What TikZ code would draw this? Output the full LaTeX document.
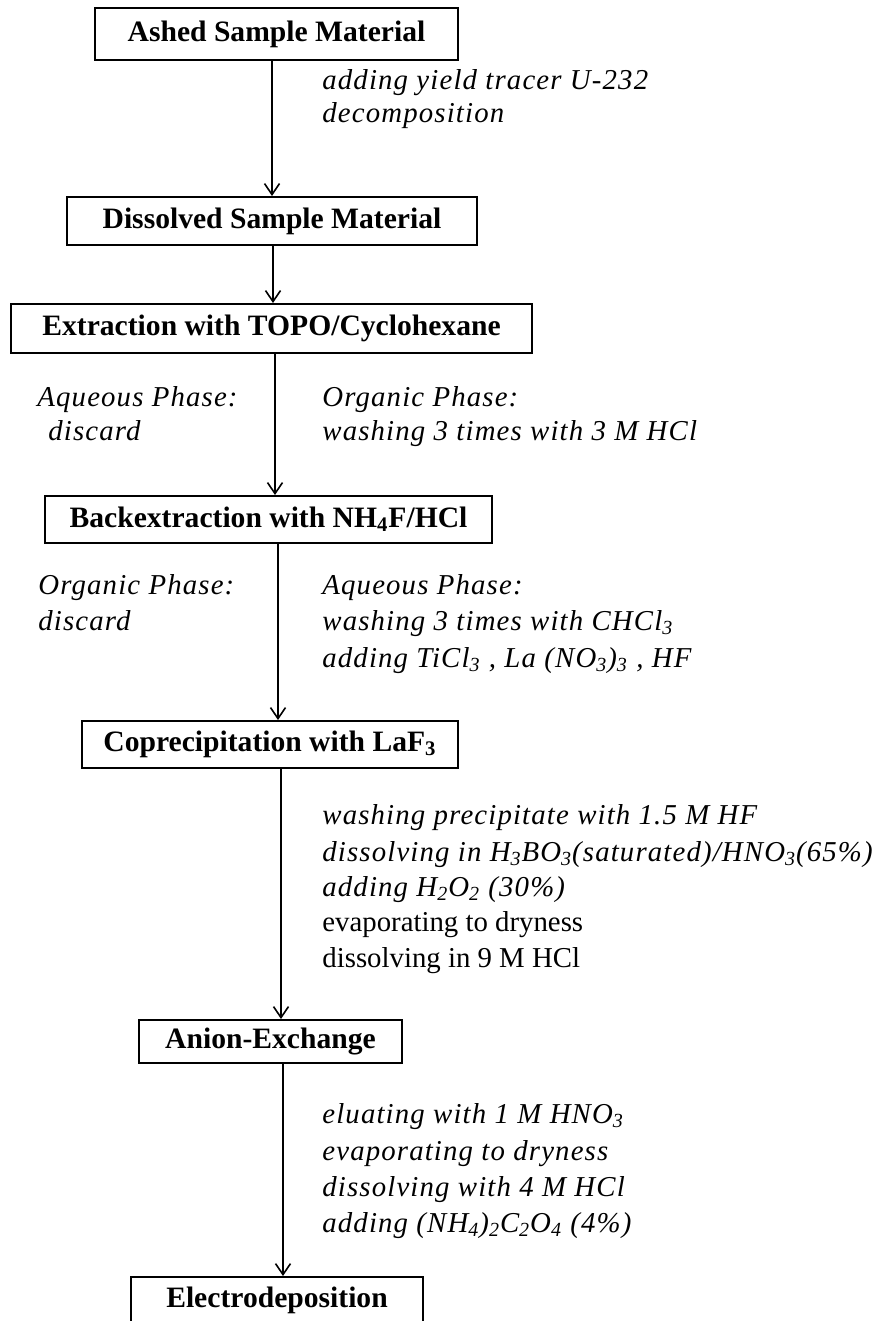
\documentclass[tikz,border=0pt]{standalone}
\usepackage{fontspec}
\setmainfont{Liberation Serif}
\newfontfamily\lblfont[LetterSpace=4]{Liberation Serif}
\usetikzlibrary{arrows.meta}
\begin{document}
\begin{tikzpicture}[x=0.5pt,y=-0.5pt,
  stepbox/.style={draw, line width=1pt, inner sep=0pt, font=\bfseries\fontsize{14.8}{16}\selectfont},
  flow/.style={line width=0.7pt, -{Straight Barb[length=5.5pt,width=7.5pt,line width=0.8pt]}},
  lbl/.style={anchor=base west, inner sep=0pt, font=\lblfont\itshape\fontsize{14.4}{16}\selectfont},
  lblup/.style={anchor=base west, inner sep=0pt, font=\fontsize{14.4}{16}\selectfont}]
\clip (0,0) rectangle (887,1321);
\fill[white] (0,0) rectangle (887,1321);

% boxes
\node[stepbox, minimum width=181.5pt, minimum height=26pt] (b1) at (276.5,34) {Ashed Sample Material};
\node[stepbox, minimum width=205pt, minimum height=24pt] (b2) at (272,221) {Dissolved Sample Material};
\node[stepbox, minimum width=260.5pt, minimum height=24.5pt] (b3) at (271.5,328.5) {Extraction with TOPO/Cyclohexane};
\node[stepbox, minimum width=223.5pt, minimum height=23.5pt] (b4) at (268.5,519.5) {Backextraction with NH\textsubscript{4}F/HCl};
\node[stepbox, minimum width=188pt, minimum height=23.5pt] (b5) at (270,744.5) {Coprecipitation with LaF\textsubscript{3}};
\node[stepbox, minimum width=131.5pt, minimum height=21.5pt] (b6) at (270.5,1041.5) {Anion-Exchange};
\node[stepbox, minimum width=146pt, minimum height=23pt] (b7) at (277,1300) {Electrodeposition};

% arrows
\coordinate (x1) at (272,0);
\coordinate (x2) at (273,0);
\coordinate (x3) at (275,0);
\coordinate (x4) at (278,0);
\coordinate (x5) at (281,0);
\coordinate (x6) at (283,0);
\draw[flow] (b1.south -| x1) -- (b2.north -| x1);
\draw[flow] (b2.south -| x2) -- (b3.north -| x2);
\draw[flow] (b3.south -| x3) -- (b4.north -| x3);
\draw[flow] (b4.south -| x4) -- (b5.north -| x4);
\draw[flow] (b5.south -| x5) -- (b6.north -| x5);
\draw[flow] (b6.south -| x6) -- (b7.north -| x6);

% labels
\node[lbl] (t1a) at (322,90) {adding yield tracer U-232};
\node[lbl] (t1b) at (322,123) {decomposition};

\node[lbl] (t3a) at (37,406) {Aqueous Phase:};
\node[lbl] (t3b) at (48,440) {discard};
\node[lbl] (t3c) at (322,406) {Organic Phase:};
\node[lbl] (t3d) at (322,440) {washing 3 times with 3 M HCl};

\node[lbl] (t4a) at (38,594) {Organic Phase:};
\node[lbl] (t4b) at (38,630) {discard};
\node[lbl] (t4c) at (322,594) {Aqueous Phase:};
\node[lbl] (t4d) at (322,630) {washing 3 times with CHCl\textsubscript{3}};
\node[lbl] (t4e) at (322,667) {adding TiCl\textsubscript{3} , La (NO\textsubscript{3})\textsubscript{3} , HF};

\node[lbl] (t5a) at (322,824) {washing precipitate with 1.5 M HF};
\node[lbl] (t5b) at (322,861) {dissolving in H\textsubscript{3}BO\textsubscript{3}(saturated)/HNO\textsubscript{3}(65\%)};
\node[lbl] (t5c) at (322,896) {adding H\textsubscript{2}O\textsubscript{2} (30\%)};
\node[lblup] (t5d) at (322,931) {evaporating to dryness};
\node[lblup] (t5e) at (322,967) {dissolving in 9 M HCl};

\node[lbl] (t6a) at (322,1123) {eluating with 1 M HNO\textsubscript{3}};
\node[lbl] (t6b) at (322,1160) {evaporating to dryness};
\node[lbl] (t6c) at (322,1196) {dissolving with 4 M HCl};
\node[lbl] (t6d) at (322,1232) {adding (NH\textsubscript{4})\textsubscript{2}C\textsubscript{2}O\textsubscript{4} (4\%)};
\end{tikzpicture}
\end{document}
